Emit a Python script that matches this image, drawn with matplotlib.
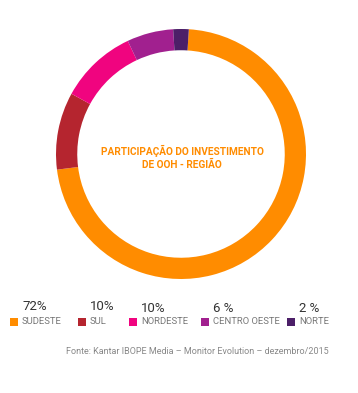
import matplotlib
matplotlib.use("Agg")
import matplotlib.pyplot as plt
from matplotlib.patches import Rectangle

regions = ["SUDESTE", "SUL", "NORDESTE", "CENTRO OESTE", "NORTE"]
shares = [72, 10, 10, 6, 2]
pct_labels = ["72%", "10%", "10%", "6 %", "2 %"]
colors = ["#FF8C00", "#B5252F", "#F0047F", "#A1208F", "#4C1F68"]
title = "PARTICIPAÇÃO DO INVESTIMENTO\nDE OOH - REGIÃO"
source = "Fonte: Kantar IBOPE Media – Monitor Evolution – dezembro/2015"

FONT = ["Roboto", "DejaVu Sans"]

W, H = 358, 393
fig = plt.figure(figsize=(W / 100, H / 100), dpi=100)
fig.patch.set_facecolor("white")

cx, cy, r = 181, 154, 125
ax = fig.add_axes([(cx - r) / W, (H - (cy + r)) / H, 2 * r / W, 2 * r / H])
start = 90 - 360 * shares[-1] / 100 / 2
ax.pie(shares, colors=colors, startangle=start, counterclock=False, radius=1,
       wedgeprops=dict(width=0.17, edgecolor="none"))
ax.set_xlim(-1, 1)
ax.set_ylim(-1, 1)
ax.set_aspect("equal")
ax.axis("off")
ax.text(0.01, -0.025, title, ha="center", va="center", color="#FF8C00",
        fontsize=7.3, fontweight="bold", family=FONT, linespacing=1.35)

# legend
sq_x = [10, 78, 129, 201, 287]
pct_y = [307, 306, 309, 308, 308]
for i, name in enumerate(regions):
    x0 = sq_x[i]
    fig.patches.append(Rectangle((x0 / W, (H - 326) / H), 8 / W, 8 / H,
                                 transform=fig.transFigure, facecolor=colors[i],
                                 edgecolor="none"))
    fig.text((x0 + 12) / W, (H - 322) / H, name, ha="left", va="center",
             fontsize=6.8, color="#777777", family=FONT)
    fig.text((x0 + 12) / W, (H - pct_y[i]) / H, pct_labels[i], ha="left",
             va="center", fontsize=9.5, color="#333333", family=FONT)

fig.text(329 / W, (H - 351) / H, source, ha="right", va="center",
         fontsize=6.5, color="#888888", family=FONT)

fig.savefig("out.png", dpi=100, facecolor="white")
